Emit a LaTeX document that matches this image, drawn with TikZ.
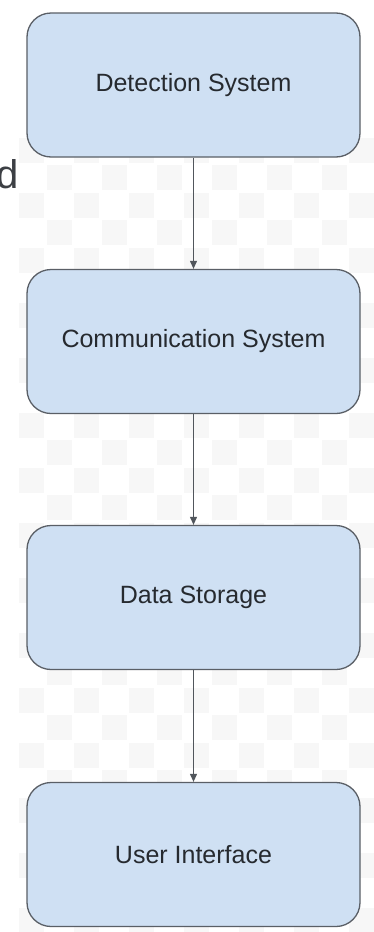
\documentclass[tikz,border=0pt]{standalone}
\usepackage{fontspec}
\setmainfont{Liberation Sans}
\usetikzlibrary{arrows.meta}
\definecolor{boxfill}{HTML}{CFE0F3}
\definecolor{boxline}{HTML}{5A5F66}
\definecolor{txt}{HTML}{262A2F}
\definecolor{chk}{HTML}{F7F7F7}
\begin{document}
\begin{tikzpicture}[x=1pt,y=-1pt,
  blk/.style={draw=boxline, line width=1.3pt, fill=boxfill, rounded corners=24pt,
    minimum width=333pt, minimum height=144pt, inner sep=0pt,
    font=\fontsize{25}{29}\selectfont, text=txt},
  conn/.style={draw=boxline!90!black, line width=1.1pt, -{Triangle[length=8pt,width=7pt]}}]
\useasboundingbox (0,0) rectangle (374,932);
\fill[white] (0,0) rectangle (374,932);
% faint checkerboard background
\foreach \i in {0,...,13}{
  \foreach \j in {0,...,29}{
    \pgfmathtruncatemacro{\p}{mod(\i+\j,2)}
    \ifnum\p=0 \fill[chk] (19+\i*27.5,137.5+\j*27.5) rectangle +(25,25);\fi
  }}
\begin{scope}
\clip (0,140) rectangle (15,200);
\node[anchor=base west, inner sep=0pt, font=\fontsize{40}{44}\selectfont, text=txt!90] (frag) at (-4,188) {do};
\end{scope}
\node[blk] (det) at (193.5,85) {Detection System};
\node[blk] (com) at (193.5,341.5) {Communication System};
\node[blk] (dat) at (193.5,597.5) {Data Storage};
\node[blk] (ui)  at (193.5,854.5) {User Interface};
\draw[conn] (det) -- (com);
\draw[conn] (com) -- (dat);
\draw[conn] (dat) -- (ui);
\end{tikzpicture}
\end{document}
